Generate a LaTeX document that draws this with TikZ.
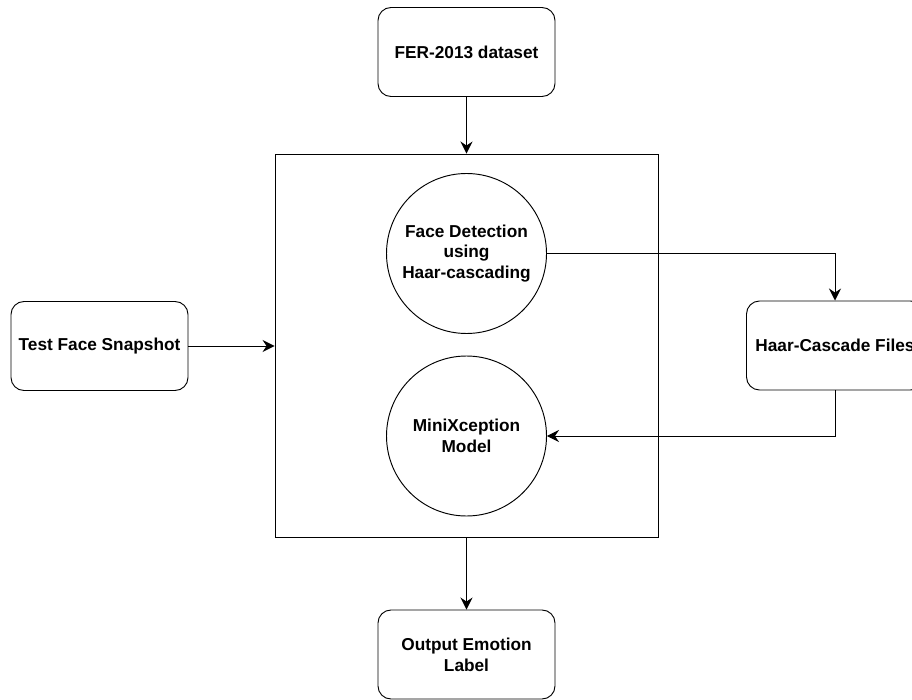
\documentclass[tikz,border=0pt]{standalone}
\usepackage{fontspec}
\setmainfont{Liberation Sans}
\usetikzlibrary{arrows.meta}
\begin{document}
\begin{tikzpicture}[x=1pt,y=-1pt,line width=0.95pt,
		txt/.style={align=center,font=\fontsize{17.25}{20.7}\selectfont\bfseries},
		box/.style={txt,draw,rounded corners=13pt,minimum width=177pt,minimum height=89pt},
		stage/.style={txt,draw,circle,minimum size=160pt,inner sep=0pt},
		flow/.style={-{Stealth[length=12pt,width=12pt,inset=4pt]}}]
		
		\useasboundingbox (0,0) rectangle (912,700);
		\clip (0,0) rectangle (912,700);
		
		\node[draw,minimum width=383pt,minimum height=383pt] (frame) at (466.5,345.5) {};
		
		\node[box] (fer) at (466.5,52) {FER-2013 dataset};
		\node[box] (test) at (99.5,346) {Test Face Snapshot};
		\node[box] (haar) at (835,345.5) {Haar-Cascade Files};
		\node[box] (out) at (466.5,654.5) {Output Emotion\\Label};
		
		\node[stage] (detect) at (466.5,253.5) {Face Detection\\using\\Haar-cascading};
		\node[stage] (mini) at (466.5,436) {MiniXception\\Model};
		
		\draw[flow] (fer) -- (frame.north);
		\draw[flow] (test.east) -- (frame.west |- test.east);
		\draw[flow] (detect.east) -| (haar.north);
		\draw[flow] (haar.south) |- (mini.east);
		\draw[flow] (frame.south) -- (out.north);
	\end{tikzpicture}
\end{document}
